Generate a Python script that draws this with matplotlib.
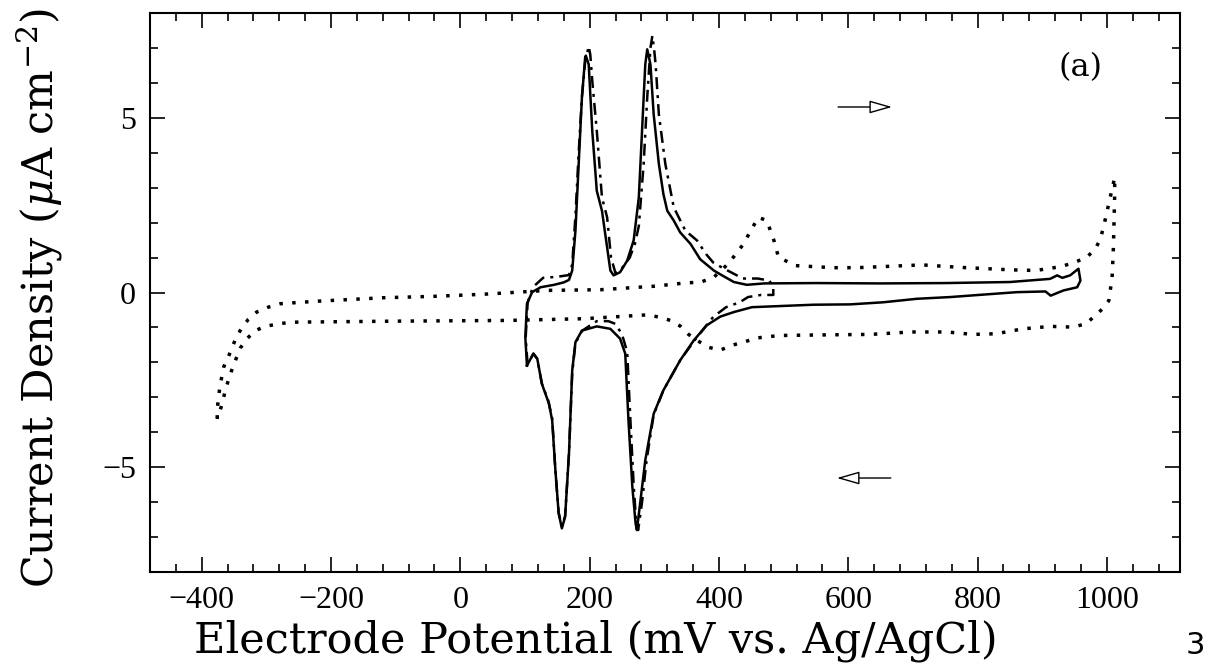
import matplotlib
matplotlib.use("Agg")
import matplotlib.pyplot as plt
from matplotlib.ticker import MultipleLocator

# solid curve: anodic sweep then cathodic sweep (mV, uA cm-2)
solid_x = [103, 100.5, 103, 111, 124, 145, 160, 168, 173, 178, 183, 188, 193, 194,
           198.5, 204, 211, 219, 227, 232, 237, 247, 258, 268, 276, 281, 286, 289,
           294, 299, 307, 314, 320, 330, 340, 356, 371, 392, 402, 423, 443, 470, 550,
           650, 750, 850, 912, 923, 931, 943, 956,
           959, 954, 933, 913, 905, 861, 809, 758, 706, 654, 603, 546, 451, 423, 402,
           381, 361, 340, 314, 299, 286, 278, 273, 271, 266, 260, 255, 247, 232, 211,
           188, 178, 173, 168, 162, 157, 152, 147, 142, 137, 126, 119, 113, 103]
solid_y = [-2.09, -1.28, -0.32, 0.01, 0.15, 0.22, 0.29, 0.36, 0.63, 1.77, 3.68, 5.58, 6.72, 6.78,
           6.53, 4.63, 2.91, 2.34, 1.29, 0.63, 0.49, 0.58, 0.91, 1.49, 2.72, 4.63, 6.53, 6.96,
           6.53, 5.1, 3.68, 2.82, 2.34, 2.06, 1.72, 1.39, 0.95, 0.63, 0.52, 0.3, 0.22, 0.26, 0.27,
           0.26, 0.27, 0.3, 0.39, 0.49, 0.42, 0.49, 0.68,
           0.34, 0.15, 0.06, -0.09, 0.03, 0.01, -0.06, -0.13, -0.18, -0.28, -0.34, -0.35, -0.42, -0.56, -0.69,
           -0.94, -1.37, -1.94, -2.8, -3.47, -4.8, -6.04, -6.8, -6.61, -5.56, -3.66, -1.75, -1.32, -1.04, -0.97,
           -1.09, -1.42, -2.23, -4.61, -6.42, -6.75, -6.32, -5.09, -3.66, -3.18, -2.61, -1.9, -1.75, -2.09]

# dash-dot curve (reversal near 480 mV)
dashdot_x = [104, 101, 104, 112, 128, 150, 168, 173, 178, 183, 188, 193, 198.5, 201, 204,
             211, 219, 227, 233, 240, 250, 262, 270, 276, 283.5, 289, 294, 297, 300, 302,
             307, 317, 330, 348, 366, 380, 391, 407, 437, 460, 478, 484, 484,
             465, 445, 432, 411, 391, 378, 361, 340, 314, 299, 288, 281, 275, 272, 268,
             263, 258, 250, 240, 229, 211, 200, 188, 178, 173, 168, 162, 157, 152, 147,
             142, 136, 126, 119, 113, 104]
dashdot_y = [-2.05, -1.3, -0.3, 0.15, 0.42, 0.45, 0.5, 0.8, 2.2, 4.0, 5.6, 6.6, 7.05, 6.8, 6.06,
             4.63, 2.72, 2.15, 1.0, 0.55, 0.7, 1.0, 1.4, 1.9, 3.68, 5.58, 7.0, 7.35, 6.9, 6.53,
             5.1, 3.68, 2.44, 1.77, 1.49, 1.1, 0.86, 0.69, 0.4, 0.4, 0.34, 0.15, -0.07,
             -0.07, -0.13, -0.28, -0.42, -0.7, -1.0, -1.4, -1.94, -2.8, -3.5, -4.8, -6.0, -6.8, -6.6, -5.5,
             -3.66, -1.7, -1.2, -0.9, -0.82, -0.82, -0.95, -1.1, -1.45, -2.3, -4.6, -6.4, -6.7, -6.3, -5.1,
             -3.6, -3.1, -2.6, -1.9, -1.75, -2.05]

# dotted curve (wide potential window)
dotted_x = [-376, -376, -372, -366, -359, -347, -338, -328, -315, -297, -278, -222, -119, -41,
            36, 134, 217, 300, 351, 371, 392, 405, 418, 438, 449, 461, 474, 485, 492, 518,
            577, 614, 714, 773, 849, 890, 929, 951, 969, 982, 990, 997, 1005, 1012,
            1012, 1010, 1008, 1003, 993, 982, 967, 947, 913, 870, 829, 793, 753, 696, 634,
            577, 494, 474, 459, 438, 420, 402, 384, 366, 353, 340, 325, 309, 289, 191, 72,
            -100, -262, -282, -302, -317, -330, -340, -352, -362, -370, -376]
dotted_y = [-3.61, -3.33, -2.7, -2.13, -1.85, -1.3, -1.01, -0.77, -0.56, -0.42, -0.32, -0.25, -0.15, -0.11,
            -0.05, 0.06, 0.08, 0.18, 0.28, 0.29, 0.44, 0.65, 0.91, 1.39, 1.77, 2.15, 2.06, 1.49, 1.01, 0.77,
            0.71, 0.71, 0.79, 0.72, 0.65, 0.63, 0.74, 0.87, 1.01, 1.25, 1.53, 2.06, 2.72, 3.29,
            2.82, 1.29, 0.44, -0.23, -0.47, -0.66, -0.9, -0.99, -0.97, -1.04, -1.18, -1.2, -1.13, -1.13, -1.2,
            -1.21, -1.23, -1.27, -1.3, -1.42, -1.51, -1.65, -1.57, -1.37, -1.2, -0.96, -0.8, -0.71, -0.64, -0.75, -0.8,
            -0.82, -0.85, -0.9, -0.97, -1.09, -1.32, -1.58, -2.13, -2.7, -3.28, -3.61]

tick_font = "Liberation Serif"
label_font = "DejaVu Serif"
plt.rcParams["font.family"] = [tick_font, "DejaVu Serif"]
plt.rcParams["mathtext.fontset"] = "dejavuserif"

fig = plt.figure(figsize=(12.14, 6.66), dpi=100)
ax = fig.add_axes([150 / 1214, 94 / 666, 1030 / 1214, 559 / 666])

ax.plot(dotted_x, dotted_y, color="black", lw=2.5, linestyle=(0, (1.0, 2.7)))
ax.plot(dashdot_x, dashdot_y, color="black", lw=1.8, linestyle=(0, (4.8, 2.4, 1.2, 2.4)))
ax.plot(solid_x, solid_y, color="black", lw=1.8)

ax.set_xlim(-480, 1113)
ax.set_ylim(-8, 8)
ax.xaxis.set_major_locator(MultipleLocator(200))
ax.xaxis.set_minor_locator(MultipleLocator(40))
ax.yaxis.set_major_locator(MultipleLocator(5))
ax.yaxis.set_minor_locator(MultipleLocator(1))
ax.tick_params(which="both", direction="in", top=True, right=True, width=1.2, labelsize=23)
ax.tick_params(which="major", length=11, pad=10)
ax.tick_params(which="minor", length=6)
for s in ax.spines.values():
    s.set_linewidth(1.5)

ax.set_xlabel("Electrode Potential (mV vs. Ag/AgCl)", fontsize=31, family=label_font)
ax.set_ylabel(r"Current Density ($\mu$A cm$^{-2}$)", fontsize=31, family=label_font)
ax.xaxis.set_label_coords(0.433, -0.085)
ax.yaxis.set_label_coords(-0.083, 0.49)

ax.text(959, 6.43, "(a)", fontsize=23, family=label_font, ha="center", va="center")
ax.annotate("", xy=(672, 5.31), xytext=(580, 5.31),
            arrowprops=dict(arrowstyle="-|>,head_length=1.4,head_width=0.4", fc="white", ec="black", lw=1.0))
ax.annotate("", xy=(578, -5.31), xytext=(670, -5.31),
            arrowprops=dict(arrowstyle="-|>,head_length=1.4,head_width=0.4", fc="white", ec="black", lw=1.0))

fig.text(1195 / 1214, 1 - 645 / 666, "3", fontsize=22, family="DejaVu Sans", ha="center", va="center")

fig.savefig("out.png", dpi=100)
